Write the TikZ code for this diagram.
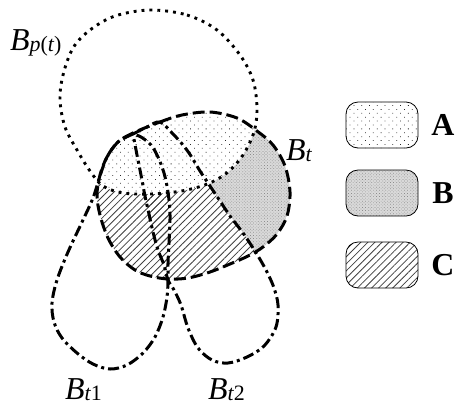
\documentclass[tikz,border=0pt]{standalone}
\usepackage{fontspec}
\setmainfont{Liberation Serif}
\usetikzlibrary{patterns.meta}
\newcommand\labsub[1]{\raisebox{-1.5bp}{\fontsize{22}{22}\selectfont #1}}
\def\pathBp{plot[smooth cycle, tension=0.55] coordinates {(150,10) (187,15) (217,30) (240,55) (253,80) (257,108) (254,132) (243,155) (228,172) (212,182) (195,188) (175,192) (150,194) (123,193) (103,186) (90,171) (77,150) (65,127) (60,100) (63,75) (73,48) (90,30) (115,16)}}
\def\pathBt{plot[smooth cycle, tension=0.55] coordinates {(133,133) (160,122) (182,115) (210,112) (237,118) (257,131) (273,145) (285,166) (290,192) (287,216) (277,234) (263,247) (248,256) (230,264) (210,272) (188,278) (168,279) (150,276) (135,270) (120,257) (108,238) (100,215) (97,195) (100,175) (107,157) (118,142)}}
\def\pathTone{plot[smooth, tension=0.55] coordinates {(133,134) (118,142) (107,157) (100,176) (93,198) (83,220) (68,252) (57,280) (52,303) (54,322) (62,338) (77,353) (93,364) (110,369) (127,365) (143,353) (155,337) (163,317) (167,297) (168,280) (168,263) (169,243) (170,215) (168,192) (164,173) (158,157) (151,145) (141,137) (133,134)} -- cycle}
\def\pathTtwo{plot[smooth, tension=0.55] coordinates {(133,134) (147,127) (160,122) (173,134) (183,145) (191,156) (200,171) (210,186) (220,201) (230,216) (243,233) (253,248) (261,261) (268,274) (274,288) (278,305) (276,327) (264,346) (247,357) (228,363) (212,360) (198,348) (188,328) (181,305) (174,290) (168,280) (164,265) (158,250) (153,232) (149,214) (145,196) (141,175) (137,155) (133,134)} -- cycle}
\begin{document}
\begin{tikzpicture}[x=1bp,y=-1bp,
  bpline/.style={line width=2.9bp, dash pattern=on 2.9bp off 5bp},
  btline/.style={line width=3bp, dash pattern=on 12bp off 5bp},
  tline/.style={line width=3bp, dash pattern=on 11bp off 4bp on 3bp off 4bp},
  patA/.style={pattern={Dots[distance=5.5bp, radius=0.55bp, angle=45]}, pattern color=black!85},
  patB/.style={preaction={fill=gray!30}, pattern={Dots[distance=2.2bp, radius=0.5bp, angle=45]}, pattern color=black!45},
  patC/.style={pattern={Lines[angle=45, distance=5bp, line width=0.8bp]}, pattern color=black!75},
  legbox/.style={draw, line width=0.8bp, rounded corners=12bp, minimum width=72bp, minimum height=46bp, inner sep=0pt},
  leglabel/.style={font=\fontsize{32}{32}\selectfont\bfseries, inner sep=0pt},
  setlabel/.style={font=\fontsize{32}{32}\selectfont\itshape, inner sep=0pt, anchor=base west}
]
\useasboundingbox (0,0) rectangle (457,405);
% region B
\begin{scope}
  \clip \pathBt;
  \fill[patB] \pathBt;
\end{scope}
% region C
\begin{scope}
  \clip \pathBt;
  \fill[white] \pathTone;
  \fill[white] \pathTtwo;
  \fill[patC] \pathTone;
  \fill[patC] \pathTtwo;
\end{scope}
% region A
\begin{scope}
  \clip \pathBt;
  \fill[white] \pathBp;
  \fill[patA] \pathBp;
\end{scope}
% boundaries
\draw[bpline] \pathBp;
\draw[btline] \pathBt;
\draw[tline] \pathTone;
\draw[tline] \pathTtwo;
% set labels
\node[setlabel] (lBp) at (10,50) {B\labsub{p\upshape(\itshape t\upshape)}};
\node[setlabel] (lBt) at (286,160) {B\labsub{t}};
\node[setlabel] (lBt1) at (65,399) {B\labsub{t\upshape 1}};
\node[setlabel] (lBt2) at (208,399) {B\labsub{t\upshape 2}};
% legend
\node[legbox, patA] (boxA) at (382,125) {};
\node[legbox, patB] (boxB) at (382,193) {};
\node[legbox, patC] (boxC) at (382,265) {};
\node[leglabel] (labA) at (443,125) {A};
\node[leglabel] (labB) at (443,193) {B};
\node[leglabel] (labC) at (443,265) {C};
\end{tikzpicture}
\end{document}
